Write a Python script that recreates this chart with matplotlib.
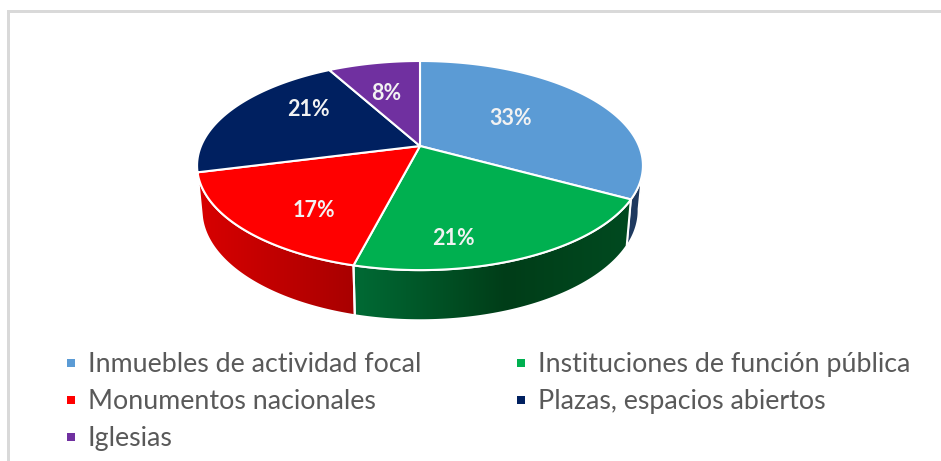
import numpy as np
import matplotlib
matplotlib.use('Agg')
import matplotlib.pyplot as plt
from matplotlib.patches import Polygon, Rectangle

categorias = ['Inmuebles de actividad focal', 'Instituciones de función pública',
              'Monumentos nacionales', 'Plazas, espacios abiertos', 'Iglesias']
valores = [33, 21, 17, 21, 8]
colores = ['#5B9BD5', '#00B050', '#FF0000', '#002060', '#7030A0']

# centro de cada etiqueta, en pixeles de la imagen
pos_etiquetas = [(511, 118), (453, 238), (314, 210), (308, 109), (386, 94)]

# perspectiva del pastel
cx, cy = 420, 146
rx, ry = 219, 100.9
k = 0.187
grosor = 44
base_x, base_y = 0.98, 1.05


def proyectar(ang, base=False):
    # ang en grados, desde arriba en sentido horario
    t = np.radians(ang)
    u, v = np.sin(t), np.cos(t)
    w = 1 + k * v
    x = rx * u / w
    y = -ry * v / w
    if base:
        return cx + x * base_x, cy + grosor + y * base_y
    return cx + x, cy + y


def lado(a0, a1):
    a = np.linspace(a0, a1, 80)
    xs, ys = proyectar(a)
    xb, yb = proyectar(a[::-1], base=True)
    return np.column_stack([np.r_[xs, xb], np.r_[ys, yb]])


def lado_gradiente(ax, a0, a1, cols, stops):
    puntos = lado(a0, a1)
    patch = Polygon(puntos, closed=True, fc='none', ec='white', lw=1.5, zorder=3)
    ax.add_patch(patch)
    x0, x1 = puntos[:, 0].min(), puntos[:, 0].max()
    y0, y1 = puntos[:, 1].min(), puntos[:, 1].max()
    cm = matplotlib.colors.LinearSegmentedColormap.from_list('g', list(zip(stops, cols)))
    im = ax.imshow(np.linspace(0, 1, 256).reshape(1, -1), cmap=cm, aspect='auto',
                   extent=(x0, x1, y1, y0), zorder=2)
    im.set_clip_path(patch)


fig = plt.figure(figsize=(9.41, 4.61), dpi=100)
ax = fig.add_axes([0, 0, 1, 1])

limites = np.cumsum([0] + valores) / sum(valores) * 360

# caras laterales visibles
ax.add_patch(Polygon(lado(100, limites[1]), closed=True, fc='#1F3A5F', ec='white', lw=1.2, zorder=1))
lado_gradiente(ax, limites[2], limites[3], ['#D80000', '#A80000'], [0, 1])
lado_gradiente(ax, limites[1], limites[2], ['#006B35', '#003D18', '#004A20'], [0, 0.55, 1])

# tapa
for i, c in enumerate(colores):
    a = np.linspace(limites[i], limites[i + 1], 120)
    xs, ys = proyectar(a)
    puntos = np.column_stack([np.r_[cx, xs], np.r_[cy, ys]])
    ax.add_patch(Polygon(puntos, closed=True, fc=c, ec='white', lw=1.5, joinstyle='round', zorder=4))

for v, (x, y) in zip(valores, pos_etiquetas):
    ax.text(x, y, f'{v}%', color='#F2F2F2', fontsize=15.5, fontweight='bold',
            family='Lato', ha='center', va='center', zorder=5)

# leyenda
filas = [363, 400, 437]
columnas = [71, 521]
for i, nombre in enumerate(categorias):
    x = columnas[i % 2]
    y = filas[i // 2]
    ax.add_patch(Rectangle((x - 4, y - 4), 8, 8, fc=colores[i], ec='none'))
    ax.text(x + 17, y + 1.5, nombre, color='#595959', fontsize=19.3, family='Lato',
            ha='left', va='center')

# borde del grafico
ax.add_patch(Rectangle((7, 10), 3, 451, fc='#D9D9D9', ec='none'))
ax.add_patch(Rectangle((7, 10), 934, 3, fc='#D9D9D9', ec='none'))

ax.set_xlim(0, 941)
ax.set_ylim(461, 0)
ax.axis('off')
fig.savefig('out.png', dpi=100)
